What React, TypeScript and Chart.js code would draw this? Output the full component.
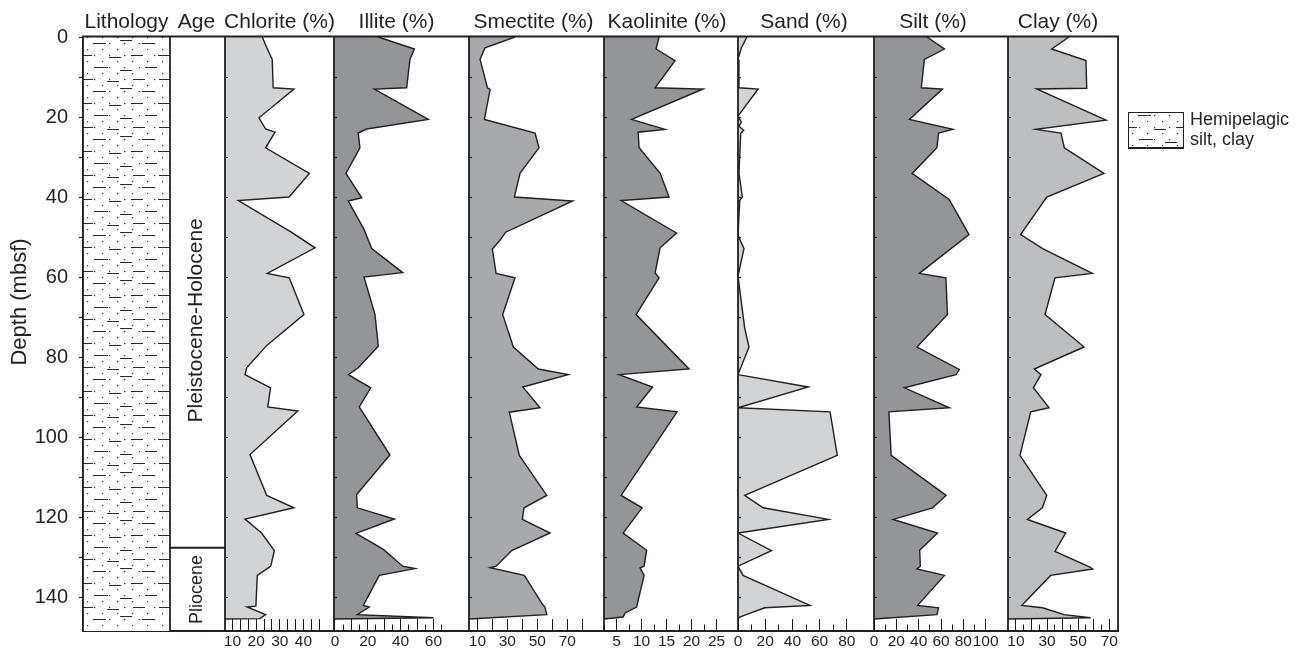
import React, { useEffect, useRef } from 'react';
import { Chart, registerables } from 'chart.js';

Chart.register(...registerables);

const INK = '#231f20';
const FONT = '"Liberation Sans", Arial, Helvetica, sans-serif';

// ---------- depth axis ----------
const depthTicks = [0, 10, 20, 30, 40, 50, 60, 70, 80, 90, 100, 110, 120, 130, 140];
const depthLabels = [0, 20, 40, 60, 80, 100, 120, 140];
const depthTitle = 'Depth (mbsf)';
const depthMax = 148.5;
const coreBottom = 145.5;

// ---------- series (depth in mbsf, value in %) ----------
const chloriteDepth = [0, 2.7, 5.6, 12.7, 13, 20.2, 23, 23.8, 27.7, 34.1, 40, 40.9, 48.7, 52.7, 59.1, 60.2, 69.4, 77.1, 82.7, 84.4, 87.7, 92.5, 93.5, 104.4, 114.6, 117.7, 120.5, 124, 128.4, 132.3, 134.6, 142.3, 142.5, 144.4, 145.4];
const chloriteValues = [22.6, 24.5, 26.8, 27.2, 36, 21.2, 24, 28, 24, 42.5, 33.9, 12.5, 34.7, 44.9, 24.7, 34, 40.2, 24.5, 16, 15.3, 26.1, 24.9, 37.6, 17.4, 24.5, 36, 15.3, 22.3, 27.7, 26.2, 20.5, 19.9, 16.2, 24, 21.6];

const illiteDepth = [0, 3, 5.6, 12.7, 13, 20.6, 23, 24, 27.7, 34.1, 40.2, 41, 48.1, 52.9, 58.9, 60, 69.4, 77.3, 82.7, 84.4, 87.7, 92.5, 104.5, 114.4, 117.7, 120.5, 124.1, 128.1, 132.3, 132.9, 134.6, 142.1, 142.5, 144.4, 145.2];
const illiteValues = [26.4, 48.4, 45.7, 43.7, 24, 56.9, 19.3, 14.2, 15.2, 6.7, 16.3, 8.1, 17.7, 22.4, 41.3, 17.7, 24.4, 26.4, 14.2, 8.1, 21.8, 14.8, 33.5, 13.2, 13.6, 36.2, 12.8, 29.5, 41.3, 48.8, 27, 17.3, 20.9, 13.6, 60];

const smectiteDepth = [0, 2.7, 5.6, 12.7, 13.1, 20.6, 24, 27.7, 34, 40, 41, 48.8, 50.8, 53, 59.1, 60.2, 69.4, 77.5, 83, 84.4, 87.5, 92.7, 93.8, 104.6, 114.6, 117.7, 120.6, 124, 128.4, 132.3, 132.7, 134.6, 141.9, 142.5, 144.4];
const smectiteValues = [35.1, 15.1, 11.8, 16.7, 18.5, 14.7, 48.5, 51.1, 38.5, 34.7, 73.6, 28.9, 25.1, 20, 22.5, 35.1, 26.9, 34, 50.7, 70.7, 40.3, 51.8, 31.3, 38, 56.3, 41.1, 40, 58.5, 32.9, 22.5, 18.5, 41.3, 53.6, 55.1, 56.3];

const kaoliniteDepth = [0, 3, 5.9, 12.7, 13, 20.6, 23.1, 23.8, 27.7, 34, 40, 40.9, 49, 52.7, 59, 60.2, 69.4, 83, 84.4, 87.5, 92.5, 93.7, 114.6, 117.7, 124, 128.3, 132.3, 132.7, 134.6, 142.5, 144, 145];
const kaoliniteValues = [13.5, 12.9, 16.7, 12.7, 22.3, 8, 14.7, 9.3, 9.5, 13.7, 15.5, 5.9, 17, 13.7, 12.7, 13.5, 8.9, 19.5, 5.5, 12.2, 9, 17.1, 5.9, 10.1, 6.3, 11, 10.5, 9.7, 10.5, 9, 6.7, 6.3];

const sandDepth = [0, 2.7, 5.6, 12.7, 13, 19.8, 21.3, 22.3, 23.3, 24.1, 34, 40, 40.9, 49.6, 52.9, 59.8, 72.7, 77.5, 84.4, 87.5, 92.7, 93.7, 104.6, 114.6, 117.7, 120.6, 124, 128.4, 132.3, 134.6, 142.1, 142.7, 144.4, 145.2];
const sandValues = [6.6, 2.5, 0, 0.7, 14.8, 0, 2.5, 0.7, 4.2, 2, 0.7, 3.2, 1.3, 0, 4.4, 0, 4.9, 8.1, 0, 51.7, 0, 67.7, 73, 4.9, 18.5, 66.4, 0, 24.6, 0, 3.7, 52.9, 19.7, 6, 0];

const siltDepth = [0, 3, 5.6, 12.7, 13, 20.6, 23.1, 24, 27.7, 34.1, 40.6, 49.4, 59.1, 60.2, 69.4, 77.5, 83.1, 84.4, 87.7, 92.7, 93.7, 104.6, 114.6, 117.7, 120.6, 124, 128.3, 132.3, 133, 134.6, 142.1, 142.7, 144.4];
const siltValues = [47.4, 63.1, 45.1, 42.4, 61.3, 31.7, 70.6, 57.8, 56.4, 34.1, 67.3, 85.1, 40.6, 64.4, 65.8, 38.5, 76.4, 73.5, 27.3, 67.6, 13.3, 15.4, 64.6, 52.5, 17.2, 56.9, 40.9, 41.5, 38.5, 63.1, 39.1, 57.8, 56.4];

const clayDepth = [0, 3, 5.9, 12.8, 13, 20.8, 23.1, 24, 27.7, 34.1, 40, 49.4, 52.9, 59.1, 60.2, 69.4, 77.5, 83, 84.4, 87.7, 92.7, 93.7, 104.6, 114.6, 117.7, 120.6, 124, 128.6, 132.5, 133, 134.6, 142.1, 142.7, 144.4, 145.2];
const clayValues = [44.1, 33, 55, 55.5, 23.3, 67.9, 22.9, 39, 41.1, 66.6, 29.8, 13, 27.2, 59.1, 35.1, 28.7, 53.8, 21.8, 26.1, 21.2, 31.3, 19.5, 12.6, 29.8, 27, 17.3, 42, 35.1, 57.6, 59.4, 32.3, 13.7, 27.2, 40.9, 58];

// ---------- panel tick values / labels ----------
const chloriteTicks = [10, 13.33, 16.67, 20, 23.33, 26.67, 30, 33.33, 36.67, 40, 43.33, 46.67];
const chloriteLabels = [10, 20, 30, 40];
const illiteTicks = [0, 5, 10, 15, 20, 25, 30, 35, 40, 45, 50, 55, 60, 65];
const illiteLabels = [0, 20, 40, 60];
const smectiteTicks = [10, 20, 30, 40, 50, 60, 70, 80];
const smectiteLabels = [10, 30, 50, 70];
const kaoliniteTicks = [2.5, 5, 7.5, 10, 12.5, 15, 17.5, 20, 22.5, 25];
const kaoliniteLabels = [5, 10, 15, 20, 25];
const sandTicks = [0, 10, 20, 30, 40, 50, 60, 70, 80];
const sandLabels = [0, 20, 40, 60, 80];
const siltTicks = [0, 10, 20, 30, 40, 50, 60, 70, 80, 90, 100];
const siltLabels = [0, 20, 40, 60, 80, 100];
const clayTicks = [10, 15, 20, 25, 30, 35, 40, 45, 50, 55, 60, 65, 70];
const clayLabels = [10, 30, 50, 70];

// ---------- lithology / age ----------
const lithologyName = 'Hemipelagic silt, clay';
const legendLines = ['Hemipelagic', 'silt, clay'];
const ageNames = ['Pleistocene-Holocene', 'Pliocene'];
const ageBoundaries = [0, 127.7, depthMax];

// ---------- panel styling ----------
type Panel = {
  id: string; title: string; depth: number[]; values: number[];
  ticks: number[]; labels: number[]; majorStep: number | null;
  min: number; max: number; weight: number; fill: string; titleShift: number;
};

const panels: Panel[] = [
  { id: 'xChlorite', title: 'Chlorite (%)', depth: chloriteDepth, values: chloriteValues, ticks: chloriteTicks, labels: chloriteLabels, majorStep: null, min: 6.85, max: 52.9, weight: 109, fill: '#d1d3d4', titleShift: 0 },
  { id: 'xIllite', title: 'Illite (%)', depth: illiteDepth, values: illiteValues, ticks: illiteTicks, labels: illiteLabels, majorStep: 10, min: -0.6, max: 81.7, weight: 135, fill: '#939598', titleShift: -5 },
  { id: 'xSmectite', title: 'Smectite (%)', depth: smectiteDepth, values: smectiteValues, ticks: smectiteTicks, labels: smectiteLabels, majorStep: null, min: 4.4, max: 94.5, weight: 135, fill: '#a7a9ac', titleShift: -3 },
  { id: 'xKaolinite', title: 'Kaolinite (%)', depth: kaoliniteDepth, values: kaoliniteValues, ticks: kaoliniteTicks, labels: kaoliniteLabels, majorStep: 5, min: 2.47, max: 29.3, weight: 134, fill: '#939598', titleShift: -4 },
  { id: 'xSand', title: 'Sand (%)', depth: sandDepth, values: sandValues, ticks: sandTicks, labels: sandLabels, majorStep: 20, min: 0, max: 100, weight: 136, fill: '#d1d3d4', titleShift: -2 },
  { id: 'xSilt', title: 'Silt (%)', depth: siltDepth, values: siltValues, ticks: siltTicks, labels: siltLabels, majorStep: 20, min: 0, max: 120, weight: 134, fill: '#939598', titleShift: -8 },
  { id: 'xClay', title: 'Clay (%)', depth: clayDepth, values: clayValues, ticks: clayTicks, labels: clayLabels, majorStep: 10, min: 4.9, max: 75.6, weight: 110, fill: '#bcbec0', titleShift: -5 },
];

const LITH_WEIGHT = 87;
const AGE_WEIGHT = 55;
const AXIS_H = 18;
const AGE_LABEL_SHIFT = [28, 0];
const DEPTH_TITLE_SHIFT = -32;

// pattern geometry (style)
const TILE_W = 87;
const TILE_H = 48;
const DASHES: [number, number, number][] = [
  [10, 23, 6], [37, 49, 3], [59, 72, 6],
  [0, 9, 18], [26, 38, 20], [48, 60, 18], [75, 87, 18],
  [12, 25, 30], [62, 74, 30], [37, 49, 33],
  [0, 10, 42], [24, 36, 44], [50, 62, 42], [76, 87, 42],
];

let tileCache: HTMLCanvasElement | null = null;
function getTile(): HTMLCanvasElement {
  if (tileCache) return tileCache;
  const c = document.createElement('canvas');
  c.width = TILE_W;
  c.height = TILE_H;
  const g = c.getContext('2d')!;
  g.fillStyle = '#ffffff';
  g.fillRect(0, 0, TILE_W, TILE_H);
  g.strokeStyle = '#2a2a2a';
  g.lineWidth = 1;
  DASHES.forEach(([x1, x2, y]) => {
    g.beginPath();
    g.moveTo(x1, y + 0.5);
    g.lineTo(x2, y + 0.5);
    g.stroke();
  });
  g.fillStyle = '#333333';
  for (let r = 0; r < 8; r++) {
    const y = r * 6;
    const off = r % 2 === 0 ? 4 : 11;
    for (let x = off; x < TILE_W; x += 15) {
      g.fillRect(x, y, 1.2, 1.2);
    }
  }
  tileCache = c;
  return c;
}

function line(ctx: CanvasRenderingContext2D, x1: number, y1: number, x2: number, y2: number) {
  ctx.beginPath();
  ctx.moveTo(x1, y1);
  ctx.lineTo(x2, y2);
  ctx.stroke();
}

const decorPlugin = {
  id: 'decor',
  beforeDatasetsDraw(chart: any) {
    const { ctx, chartArea: a, scales } = chart;
    const lith = scales.xLith;
    const pat = ctx.createPattern(getTile(), 'repeat');
    ctx.save();
    ctx.translate(lith.left, a.top);
    ctx.fillStyle = pat;
    ctx.fillRect(0, 0, lith.right - lith.left, a.bottom - a.top);
    ctx.restore();
  },
  afterDatasetsDraw(chart: any) {
    const { ctx, chartArea: a, scales } = chart;
    const y = scales.y;
    ctx.save();
    ctx.strokeStyle = INK;
    ctx.lineCap = 'butt';

    // small depth ticks on data panel left edges
    ctx.lineWidth = 1.2;
    panels.forEach((p) => {
      const s = scales[p.id];
      depthTicks.forEach((d) => {
        if (d === 0) return;
        const py = Math.round(y.getPixelForValue(d)) + 0.5;
        line(ctx, s.left, py, s.left + 3, py);
      });
    });

    // panel borders
    ctx.lineWidth = 1.8;
    const edges = [scales.xLith.left, scales.xLith.right, scales.xAge.right, ...panels.map((p) => scales[p.id].right)];
    edges.forEach((x: number) => line(ctx, x, a.top - 1, x, a.bottom));
    ctx.lineWidth = 2;
    line(ctx, a.left - 1, a.top - 0.5, a.right + 1, a.top - 0.5);

    // depth axis title
    ctx.fillStyle = INK;
    ctx.save();
    ctx.translate(20, (a.top + a.bottom) / 2 + DEPTH_TITLE_SHIFT);
    ctx.rotate(-Math.PI / 2);
    ctx.textAlign = 'center';
    ctx.textBaseline = 'middle';
    ctx.font = `22px ${FONT}`;
    ctx.fillText(depthTitle, 0, 0);
    ctx.restore();

    // age column
    const age = scales.xAge;
    const yb = y.getPixelForValue(ageBoundaries[1]);
    line(ctx, age.left, yb, age.right, yb);
    ctx.textAlign = 'center';
    ctx.textBaseline = 'alphabetic';
    const ageSizes = [21, 18];
    ageNames.forEach((name, i) => {
      const mid = (y.getPixelForValue(ageBoundaries[i]) + y.getPixelForValue(ageBoundaries[i + 1])) / 2 + AGE_LABEL_SHIFT[i];
      ctx.save();
      ctx.translate(age.right - 23.5, mid);
      ctx.rotate(-Math.PI / 2);
      ctx.font = `${ageSizes[i]}px ${FONT}`;
      ctx.fillText(name, 0, 0);
      ctx.restore();
    });

    // column titles
    ctx.font = `21px ${FONT}`;
    const titleY = 27.5;
    ctx.fillText('Lithology', (scales.xLith.left + scales.xLith.right) / 2, titleY);
    ctx.fillText('Age', (age.left + age.right) / 2 - 1, titleY);
    panels.forEach((p) => {
      const s = scales[p.id];
      ctx.fillText(p.title, (s.left + s.right) / 2 + p.titleShift, titleY);
    });

    // legend
    const lx = a.right + 10;
    const ly = 112;
    const lw = 55;
    const lh = 36;
    const pat = ctx.createPattern(getTile(), 'repeat');
    ctx.save();
    ctx.translate(lx, ly - 3);
    ctx.fillStyle = pat;
    ctx.fillRect(0, 3, lw, lh);
    ctx.restore();
    ctx.lineWidth = 1;
    ctx.strokeRect(lx + 0.5, ly + 0.5, lw, lh);
    ctx.lineWidth = 2;
    line(ctx, lx, ly + lh, lx + lw + 1, ly + lh);
    ctx.fillStyle = INK;
    ctx.textAlign = 'left';
    ctx.font = `18px ${FONT}`;
    ctx.fillText(legendLines[0], lx + 62, 124.5);
    ctx.fillText(legendLines[1], lx + 62, 144.5);
    ctx.restore();
  },
};

function near(list: number[], v: number) {
  return list.some((l) => Math.abs(l - v) < 1e-6);
}

function panelScale(p: Panel) {
  return {
    type: 'linear',
    axis: 'x',
    position: 'bottom',
    stack: 'columns',
    stackWeight: p.weight,
    min: p.min,
    max: p.max,
    afterBuildTicks: (s: any) => {
      s.ticks = p.ticks.map((v) => ({ value: v }));
    },
    afterFit: (s: any) => {
      s.height = AXIS_H;
      s.paddingLeft = 0;
      s.paddingRight = 0;
      s.paddingTop = 0;
      s.paddingBottom = 0;
    },
    ticks: {
      autoSkip: false,
      maxRotation: 0,
      minRotation: 0,
      padding: 13.2,
      color: INK,
      font: { family: FONT, size: 15.5 },
      callback: (v: number) => (near(p.labels, v) ? String(v) : ''),
    },
    grid: {
      display: true,
      drawOnChartArea: false,
      drawTicks: true,
      tickLength: -12,
      tickColor: INK,
      tickWidth: 1,
      tickBorderDash: (ctx: any) => {
        const v = ctx.tick ? ctx.tick.value : 0;
        if (p.majorStep === null) return [];
        const r = v / p.majorStep;
        return Math.abs(r - Math.round(r)) < 1e-6 ? [] : [7.5, 100];
      },
    },
    border: { display: true, color: INK, width: 2 },
  };
}

function blankScale(weight: number) {
  return {
    type: 'linear',
    axis: 'x',
    position: 'bottom',
    stack: 'columns',
    stackWeight: weight,
    min: 0,
    max: 1,
    afterFit: (s: any) => {
      s.height = AXIS_H;
      s.paddingLeft = 0;
      s.paddingRight = 0;
      s.paddingTop = 0;
      s.paddingBottom = 0;
    },
    ticks: { display: false },
    grid: { display: false },
    border: { display: true, color: INK, width: 2 },
  };
}

export default function App() {
  const ref = useRef<HTMLCanvasElement>(null);

  useEffect(() => {
    if (!ref.current) return;
    const scales: any = {
      y: {
        type: 'linear',
        position: 'left',
        reverse: true,
        min: 0,
        max: depthMax,
        afterBuildTicks: (s: any) => {
          s.ticks = depthTicks.map((v) => ({ value: v }));
        },
        afterFit: (s: any) => {
          s.width = 83;
          s.paddingLeft = 0;
          s.paddingRight = 0;
          s.paddingTop = 0;
          s.paddingBottom = 0;
        },
        ticks: {
          autoSkip: false,
          padding: 11,
          color: INK,
          font: { family: FONT, size: 20 },
          callback: (v: number) => (near(depthLabels, v) ? String(v) : ''),
        },
        grid: { display: true, drawOnChartArea: false, drawTicks: true, tickLength: 4, tickColor: INK, tickWidth: 1.2 },
        border: { display: true, color: INK, width: 2 },
        title: { display: false },
      },
      xLith: blankScale(LITH_WEIGHT),
      xAge: blankScale(AGE_WEIGHT),
    };
    panels.forEach((p) => {
      scales[p.id] = panelScale(p);
    });

    const datasets = panels.map((p) => {
      const pts = p.depth.map((d, i) => ({ x: p.values[i], y: d }));
      pts.push({ x: p.min, y: coreBottom });
      return {
        label: p.title,
        data: pts,
        xAxisID: p.id,
        yAxisID: 'y',
        fill: { value: p.min },
        backgroundColor: p.fill,
        borderColor: INK,
        borderWidth: 1.4,
        pointRadius: 0,
        pointHoverRadius: 0,
        tension: 0,
      };
    });

    const chart = new Chart(ref.current, {
      type: 'line',
      data: { datasets } as any,
      options: {
        indexAxis: 'y',
        animation: false,
        responsive: false,
        devicePixelRatio: 1,
        layout: { padding: { top: 37, right: 184, bottom: 0, left: 0 } },
        plugins: {
          legend: { display: false },
          tooltip: { enabled: false },
        },
        events: [],
        scales,
      } as any,
      plugins: [decorPlugin],
    });
    return () => chart.destroy();
  }, []);

  return (
    <div style={{ position: 'fixed', left: 0, top: 0, width: 1302, height: 649, background: '#ffffff' }}>
      <canvas ref={ref} width={1302} height={649} style={{ display: 'block', width: 1302, height: 649 }} aria-label={lithologyName} />
    </div>
  );
}
